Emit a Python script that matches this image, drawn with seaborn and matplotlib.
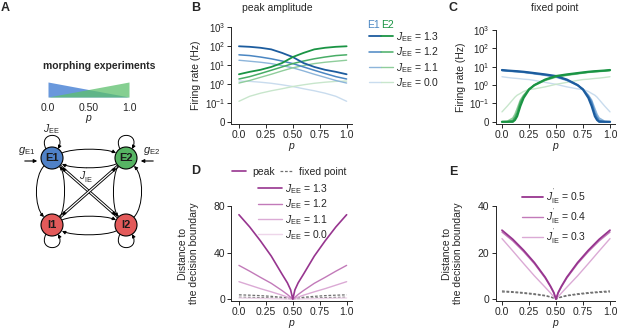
import numpy as np
import pandas as pd
import seaborn as sns
import matplotlib
matplotlib.use('Agg')
import matplotlib.pyplot as plt
from matplotlib.patches import Circle, FancyArrowPatch
from matplotlib.path import Path
from matplotlib.lines import Line2D
from matplotlib.legend_handler import HandlerTuple

sns.set_style('ticks')
plt.rcParams['font.family'] = ['Liberation Sans', 'DejaVu Sans']
plt.rcParams['mathtext.fontset'] = 'custom'
plt.rcParams['mathtext.rm'] = 'Liberation Sans'
plt.rcParams['mathtext.it'] = 'Liberation Sans:italic'
plt.rcParams['mathtext.bf'] = 'Liberation Sans:bold'
plt.rcParams['font.size'] = 7.5

# ---------------- data ----------------
p = [0.0, 0.1, 0.2, 0.3, 0.4, 0.5, 0.6, 0.7, 0.8, 0.9, 1.0]
jee_labels = ['1.3', '1.2', '1.1', '0.0']
jie_labels = ['0.5', '0.4', '0.3']

# B: peak amplitude (Hz)
peak_e1_13 = [96, 90, 80, 66, 43, 26, 12.5, 7.8, 5.5, 4.3, 3.2]
peak_e1_12 = [34, 31, 26, 21, 16, 11.7, 7.8, 5.2, 3.5, 2.4, 1.8]
peak_e1_11 = [17.6, 15.6, 13.8, 11.7, 9.2, 7.0, 4.8, 3.2, 2.2, 1.5, 1.1]
peak_e1_00 = [1.4, 1.35, 1.22, 1.07, 0.89, 0.72, 0.55, 0.43, 0.32, 0.22, 0.12]
peak_e2_13 = [3.2, 4.3, 5.5, 7.8, 12.5, 26, 43, 66, 80, 90, 96]
peak_e2_12 = [1.8, 2.4, 3.5, 5.2, 7.8, 11.7, 16, 21, 26, 31, 34]
peak_e2_11 = [1.1, 1.5, 2.2, 3.2, 4.8, 7.0, 9.2, 11.7, 13.8, 15.6, 17.6]
peak_e2_00 = [0.12, 0.22, 0.32, 0.43, 0.55, 0.72, 0.89, 1.07, 1.22, 1.35, 1.4]

# C: fixed point (Hz)
p_fp = [0.0, 0.05, 0.1, 0.12, 0.14, 0.17, 0.2, 0.25, 0.3, 0.4, 0.5,
        0.6, 0.7, 0.75, 0.8, 0.83, 0.86, 0.88, 0.9, 0.95, 1.0]
fp_e1_13 = [6.6, 6.2, 5.9, 5.8, 5.7, 5.5, 5.3, 4.9, 4.5, 3.8, 3.1,
            2.0, 1.0, 0.57, 0.2, 0.086, 0.03, 0.01, 0, 0, 0]
fp_e1_12 = [6.4, 6.0, 5.7, 5.6, 5.5, 5.3, 5.1, 4.7, 4.3, 3.6, 2.9,
            1.9, 1.0, 0.6, 0.25, 0.12, 0.05, 0.025, 0.008, 0, 0]
fp_e1_11 = [6.2, 5.8, 5.5, 5.4, 5.3, 5.1, 4.9, 4.5, 4.1, 3.4, 2.7,
            1.8, 0.95, 0.6, 0.28, 0.15, 0.07, 0.04, 0.02, 0.003, 0]
fp_e1_00 = [2.85, 2.6, 2.4, 2.35, 2.3, 2.2, 2.1, 2.0, 1.8, 1.4, 1.1,
            0.8, 0.62, 0.57, 0.45, 0.35, 0.28, 0.22, 0.16, 0.086, 0.054]
fp_e2_13 = [0, 0, 0, 0.01, 0.03, 0.086, 0.2, 0.57, 1.0, 2.0, 3.1,
            3.8, 4.5, 4.9, 5.3, 5.5, 5.7, 5.8, 5.9, 6.2, 6.6]
fp_e2_12 = [0, 0, 0.008, 0.025, 0.05, 0.12, 0.25, 0.6, 1.0, 1.9, 2.9,
            3.6, 4.3, 4.7, 5.1, 5.3, 5.5, 5.6, 5.7, 6.0, 6.4]
fp_e2_11 = [0, 0.003, 0.02, 0.04, 0.07, 0.15, 0.28, 0.6, 0.95, 1.8, 2.7,
            3.4, 4.1, 4.5, 4.9, 5.1, 5.3, 5.4, 5.5, 5.8, 6.2]
fp_e2_00 = [0.054, 0.086, 0.16, 0.22, 0.28, 0.35, 0.45, 0.57, 0.62, 0.8, 1.1,
            1.4, 1.8, 2.0, 2.1, 2.2, 2.3, 2.35, 2.4, 2.6, 2.85]

# D / E: distance to the decision boundary
p_d = [0.0, 0.1, 0.2, 0.3, 0.4, 0.45, 0.48, 0.5, 0.52, 0.55, 0.6, 0.7, 0.8, 0.9, 1.0]
dist_13 = [72.5, 62, 50, 37, 21.5, 14, 8, 0, 8, 14, 21.5, 37, 50, 62, 72.5]
dist_12 = [29, 24, 18.7, 13.6, 7.4, 4, 1.6, 0, 1.6, 4, 7.4, 13.6, 18.7, 24, 29]
dist_11 = [15, 12, 9, 6.3, 3.4, 1.8, 0.7, 0, 0.7, 1.8, 3.4, 6.3, 9, 12, 15]
dist_00 = [1.0, 0.8, 0.6, 0.4, 0.2, 0.1, 0.04, 0, 0.04, 0.1, 0.2, 0.4, 0.6, 0.8, 1.0]
fixd_13 = [3.7, 3.4, 3.0, 2.4, 1.6, 1.0, 0.5, 0, 0.5, 1.0, 1.6, 2.4, 3.0, 3.4, 3.7]
fixd_00 = [1.6, 1.5, 1.3, 1.0, 0.7, 0.4, 0.2, 0, 0.2, 0.4, 0.7, 1.0, 1.3, 1.5, 1.6]

dist_ie05 = [29.6, 25.7, 21, 15.7, 9.4, 5.5, 2.8, 0, 2.8, 5.5, 9.4, 15.7, 21, 25.7, 29.6]
dist_ie04 = [28.8, 25, 20.4, 15.2, 9.0, 5.2, 2.6, 0, 2.6, 5.2, 9.0, 15.2, 20.4, 25, 28.8]
dist_ie03 = [26, 20.7, 15.3, 10, 5.1, 2.6, 1.0, 0, 1.0, 2.6, 5.1, 10, 15.3, 20.7, 26]
fixd_ie05 = [3.5, 3.2, 2.8, 2.3, 1.6, 1.0, 0.5, 0, 0.5, 1.0, 1.6, 2.3, 2.8, 3.2, 3.5]
fixd_ie03 = [3.1, 2.9, 2.5, 2.0, 1.4, 0.85, 0.4, 0, 0.4, 0.85, 1.4, 2.0, 2.5, 2.9, 3.1]

morph_p = [0.0, 0.5, 1.0]
morph_e1 = [1.0, 0.5, 0.0]
morph_e2 = [0.0, 0.5, 1.0]

blues = ['#1c5c9e', '#4a86c2', '#8db5da', '#c9dcee']
greens = ['#1a9444', '#48ad66', '#8fcd9b', '#c8e6cc']
purples = ['#97358f', '#c27ab9', '#dbaad5', '#eed6ea']
grey = '#707070'
dash = (0, (2.2, 1.4))
jie_tex = "$J^{\\rm '}_{\\rm IE}$"

W, H = 617, 329
fig = plt.figure(figsize=(W / 100, H / 100), dpi=100)


def px_axes(left, top, right, bottom):
    return fig.add_axes([left / W, 1 - bottom / H, (right - left) / W, (bottom - top) / H])


def style_axes(ax, pad=0.5):
    sns.despine(ax=ax)
    for s in ['left', 'bottom']:
        ax.spines[s].set_linewidth(0.7)
    ax.tick_params(direction='out', length=3, width=0.7, pad=1.5, labelsize=7.5)
    ax.set_xticks([0, 0.25, 0.5, 0.75, 1.0])
    ax.set_xticklabels(['0.0', '0.25', '0.50', '0.75', '1.0'])
    ax.set_xlabel('$p$', labelpad=pad)


def log_axes(ax):
    ax.set_yscale('symlog', linthresh=0.1, linscale=0.9)
    ax.set_ylim(-0.012, 1000)
    ax.set_yticks([0, 0.1, 1, 10, 100, 1000])
    ax.set_yticklabels(['0', '$10^{-1}$', '$10^{0}$', '$10^{1}$', '$10^{2}$', '$10^{3}$'])
    ax.yaxis.set_minor_locator(matplotlib.ticker.NullLocator())


# ---------------- B ----------------
axB = px_axes(231.4, 27, 352, 124)
peak_e1 = [peak_e1_13, peak_e1_12, peak_e1_11, peak_e1_00]
peak_e2 = [peak_e2_13, peak_e2_12, peak_e2_11, peak_e2_00]
lwB = [1.3, 1.1, 1.0, 1.0]
for i in range(4)[::-1]:
    sns.lineplot(x=p, y=peak_e1[i], ax=axB, color=blues[i], lw=lwB[i])
    sns.lineplot(x=p, y=peak_e2[i], ax=axB, color=greens[i], lw=lwB[i])
log_axes(axB)
axB.set_xlim(-0.07, 1.05)
style_axes(axB)
axB.tick_params(axis='y', labelsize=7)
axB.set_ylabel('Firing rate (Hz)')
axB.yaxis.set_label_coords(-0.25, 0.5)

handles = [(Line2D([], [], color=blues[i], lw=lwB[i]), Line2D([], [], color=greens[i], lw=lwB[i]))
           for i in range(4)]
axB.legend(handles, ['$J_{\\rm EE}$ = ' + l for l in jee_labels],
           handler_map={tuple: HandlerTuple(ndivide=None, pad=0)},
           loc='upper left', bbox_to_anchor=(369 / W, 1 - 30 / H), bbox_transform=fig.transFigure,
           frameon=False, borderpad=0, borderaxespad=0, handlelength=2.3, handletextpad=0.3,
           labelspacing=0.15, fontsize=7.5)
fig.text(367 / W, 1 - 25 / H, 'E1', color=blues[1], fontsize=7.5, va='center')
fig.text(381 / W, 1 - 25 / H, 'E2', color=greens[0], fontsize=7.5, va='center')

# ---------------- C ----------------
axC = px_axes(495.5, 30, 615.4, 124)
fp_e1 = [fp_e1_13, fp_e1_12, fp_e1_11, fp_e1_00]
fp_e2 = [fp_e2_13, fp_e2_12, fp_e2_11, fp_e2_00]
lwC = [1.6, 1.2, 1.2, 1.0]
for i in range(4)[::-1]:
    sns.lineplot(x=p_fp, y=fp_e1[i], ax=axC, color=blues[i], lw=lwC[i])
    sns.lineplot(x=p_fp, y=fp_e2[i], ax=axC, color=greens[i], lw=lwC[i])
log_axes(axC)
axC.set_xlim(-0.06, 1.05)
style_axes(axC)
axC.tick_params(axis='y', labelsize=7)
axC.set_ylabel('Firing rate (Hz)')
axC.yaxis.set_label_coords(-0.25, 0.5)

# ---------------- D ----------------
axD = px_axes(231.4, 206, 352, 301)
dist_d = [dist_13, dist_12, dist_11, dist_00]
for fx in [fixd_13, fixd_00]:
    sns.lineplot(x=p_d, y=fx, ax=axD, color=grey, lw=0.9, linestyle=dash)
for i in range(4)[::-1]:
    sns.lineplot(x=p_d, y=dist_d[i], ax=axD, color=purples[i], lw=1.2 if i == 0 else 1.0)
axD.set_xlim(-0.07, 1.05)
axD.set_ylim(-1.6, 80)
axD.set_yticks([0, 40, 80])
style_axes(axD)
axD.set_ylabel('Distance to\nthe decision boundary', linespacing=1.1)
axD.yaxis.set_label_coords(-0.27, 0.5)

leg1 = axD.legend([Line2D([], [], color=purples[0], lw=1.2),
                   Line2D([], [], color=grey, lw=0.9, linestyle=dash)],
                  ['peak', 'fixed point'], ncol=2,
                  loc='upper left', bbox_to_anchor=(232 / W, 1 - 167 / H), bbox_transform=fig.transFigure,
                  frameon=False, borderpad=0, borderaxespad=0, handlelength=1.3, handletextpad=0.6,
                  columnspacing=0.5, fontsize=7.5)
axD.add_artist(leg1)
axD.legend([Line2D([], [], color=purples[i], lw=1.2 if i == 0 else 1.0) for i in range(4)],
           ['$J_{\\rm EE}$ = ' + l for l in jee_labels],
           loc='upper left', bbox_to_anchor=(258 / W, 1 - 182 / H), bbox_transform=fig.transFigure,
           frameon=False, borderpad=0, borderaxespad=0, handlelength=2.3, handletextpad=0.3,
           labelspacing=0.15, fontsize=7.5)

# ---------------- E ----------------
axE = px_axes(495.5, 206, 615.4, 301)
dist_e = [dist_ie05, dist_ie04, dist_ie03]
for fx in [fixd_ie05, fixd_ie03]:
    sns.lineplot(x=p_d, y=fx, ax=axE, color=grey, lw=0.9, linestyle=dash)
for i in range(3)[::-1]:
    sns.lineplot(x=p_d, y=dist_e[i], ax=axE, color=purples[i], lw=1.3 if i == 0 else 1.0)
axE.set_xlim(-0.06, 1.05)
axE.set_ylim(-0.8, 40)
axE.set_yticks([0, 20, 40])
style_axes(axE)
axE.set_ylabel('Distance to\nthe decision boundary', linespacing=1.1)
axE.yaxis.set_label_coords(-0.27, 0.5)
axE.legend([Line2D([], [], color=purples[i], lw=1.3 if i == 0 else 1.0) for i in range(3)],
           [jie_tex + ' = ' + l for l in jie_labels],
           loc='upper left', bbox_to_anchor=(522 / W, 1 - 188 / H), bbox_transform=fig.transFigure,
           frameon=False, borderpad=0, borderaxespad=0, handlelength=2.0, handletextpad=0.3,
           labelspacing=0.15, fontsize=7.5)

# ---------------- A: schematic ----------------
axA = fig.add_axes([0, 0, 200 / W, 1])
axA.set_xlim(0, 200)
axA.set_ylim(H, 0)
axA.axis('off')

fig.text(99 / W, 1 - 66 / H, 'morphing experiments', ha='center', va='center',
         fontsize=7.5, fontweight='bold')
axM = px_axes(48, 82, 129, 97)
axM.fill_between(morph_p, 0, morph_e1, color='#4f86d6', alpha=0.85, lw=0)
axM.fill_between(morph_p, 0, morph_e2, color='#5cbf6c', alpha=0.75, lw=0)
axM.set_xlim(0, 1)
axM.set_ylim(0, 1)
axM.set_yticks([])
axM.set_xticks([0, 0.5, 1.0])
axM.set_xticklabels(['0.0', '0.50', '1.0'])
axM.tick_params(length=0, pad=4, labelsize=7.5)
for s in axM.spines.values():
    s.set_visible(False)
axM.set_xlabel('$p$', labelpad=0)


def curve(p0, p1, bulge, style='-|>'):
    p0 = np.array(p0, float)
    p1 = np.array(p1, float)
    d = p1 - p0
    n = np.array([-d[1], d[0]]) / np.hypot(*d)
    c1 = p0 + d * 0.2 + n * bulge
    c2 = p0 + d * 0.8 + n * bulge
    path = Path([p0, c1, c2, p1], [Path.MOVETO, Path.CURVE4, Path.CURVE4, Path.CURVE4])
    axA.add_patch(FancyArrowPatch(path=path, arrowstyle=style, mutation_scale=5,
                                  lw=0.7, color='k', zorder=2))


def loop(cx, cy, up=True):
    s = -1 if up else 1
    y0 = cy + s * 9
    yc = cy + s * 27
    path = Path([(cx - 6, y0), (cx - 15, yc), (cx + 15, yc), (cx + 6, y0)],
                [Path.MOVETO, Path.CURVE4, Path.CURVE4, Path.CURVE4])
    axA.add_patch(FancyArrowPatch(path=path, arrowstyle='-|>', mutation_scale=5,
                                  lw=0.7, color='k', zorder=2))


nodes = {'E1': (52, 158, '#4f81c7'), 'E2': (126, 158, '#56b463'),
         'I1': (52, 225, '#e35a5a'), 'I2': (126, 225, '#e35a5a')}

# horizontal arcs
curve((62, 153), (116, 153), -5)
curve((116, 164), (62, 164), -5)
curve((62, 220), (116, 220), -5)
curve((116, 231), (62, 231), -5)
# vertical arcs
curve((44, 166), (44, 217), 10)
curve((60, 217), (60, 166), 6)
curve((134, 217), (134, 166), 10)
curve((118, 166), (118, 217), 6)
# self loops
loop(52, 158, True)
loop(126, 158, True)
loop(52, 225, False)
loop(126, 225, False)
# cross connections (double lines)
for (x0, y0), (x1, y1) in [((60, 166), (118, 217)), ((118, 166), (60, 217))]:
    axA.plot([x0, x1], [y0, y1], color='k', lw=2.2, solid_capstyle='butt', zorder=1)
    axA.plot([x0, x1], [y0, y1], color='white', lw=0.9, solid_capstyle='butt', zorder=1)
    axA.annotate('', xy=(x1, y1), xytext=(x1 - (x1 - x0) * 0.12, y1 - (y1 - y0) * 0.12),
                 arrowprops=dict(arrowstyle='-|>', lw=0.7, color='k', mutation_scale=5))
    axA.annotate('', xy=(x0, y0), xytext=(x0 + (x1 - x0) * 0.12, y0 + (y1 - y0) * 0.12),
                 arrowprops=dict(arrowstyle='-|>', lw=0.7, color='k', mutation_scale=5))

for name, (cx, cy, col) in nodes.items():
    axA.add_patch(Circle((cx, cy), 11, facecolor=col, edgecolor='k', lw=0.8, zorder=3))
    axA.text(cx, cy, name, ha='center', va='center', fontsize=8, fontweight='bold',
             color='#1a1a1a', zorder=4)

# inputs
axA.annotate('', xy=(40, 161), xytext=(22, 161),
             arrowprops=dict(arrowstyle='-|>', lw=0.8, color='k', mutation_scale=5))
axA.annotate('', xy=(138, 161), xytext=(156, 161),
             arrowprops=dict(arrowstyle='-|>', lw=0.8, color='k', mutation_scale=5))
axA.text(27, 151, '$g_{\\rm E1}$', ha='center', va='center', fontsize=8)
axA.text(152, 151, '$g_{\\rm E2}$', ha='center', va='center', fontsize=8)
axA.text(51, 129, '$J_{\\rm EE}$', ha='center', va='center', fontsize=7.5)
axA.text(86, 176, jie_tex, ha='center', va='center', fontsize=7.5)

# ---------------- titles and panel letters ----------------
fig.text(277 / W, 1 - 8 / H, 'peak amplitude', ha='center', va='center', fontsize=7.5)
fig.text(555 / W, 1 - 8 / H, 'fixed point', ha='center', va='center', fontsize=7.5)
for letter, x, y in [('A', 5, 8), ('B', 196, 8), ('C', 453, 8), ('D', 196, 171), ('E', 453, 172)]:
    fig.text(x / W, 1 - y / H, letter, ha='center', va='center', fontsize=9, fontweight='bold')

fig.savefig('out.png', dpi=100)
